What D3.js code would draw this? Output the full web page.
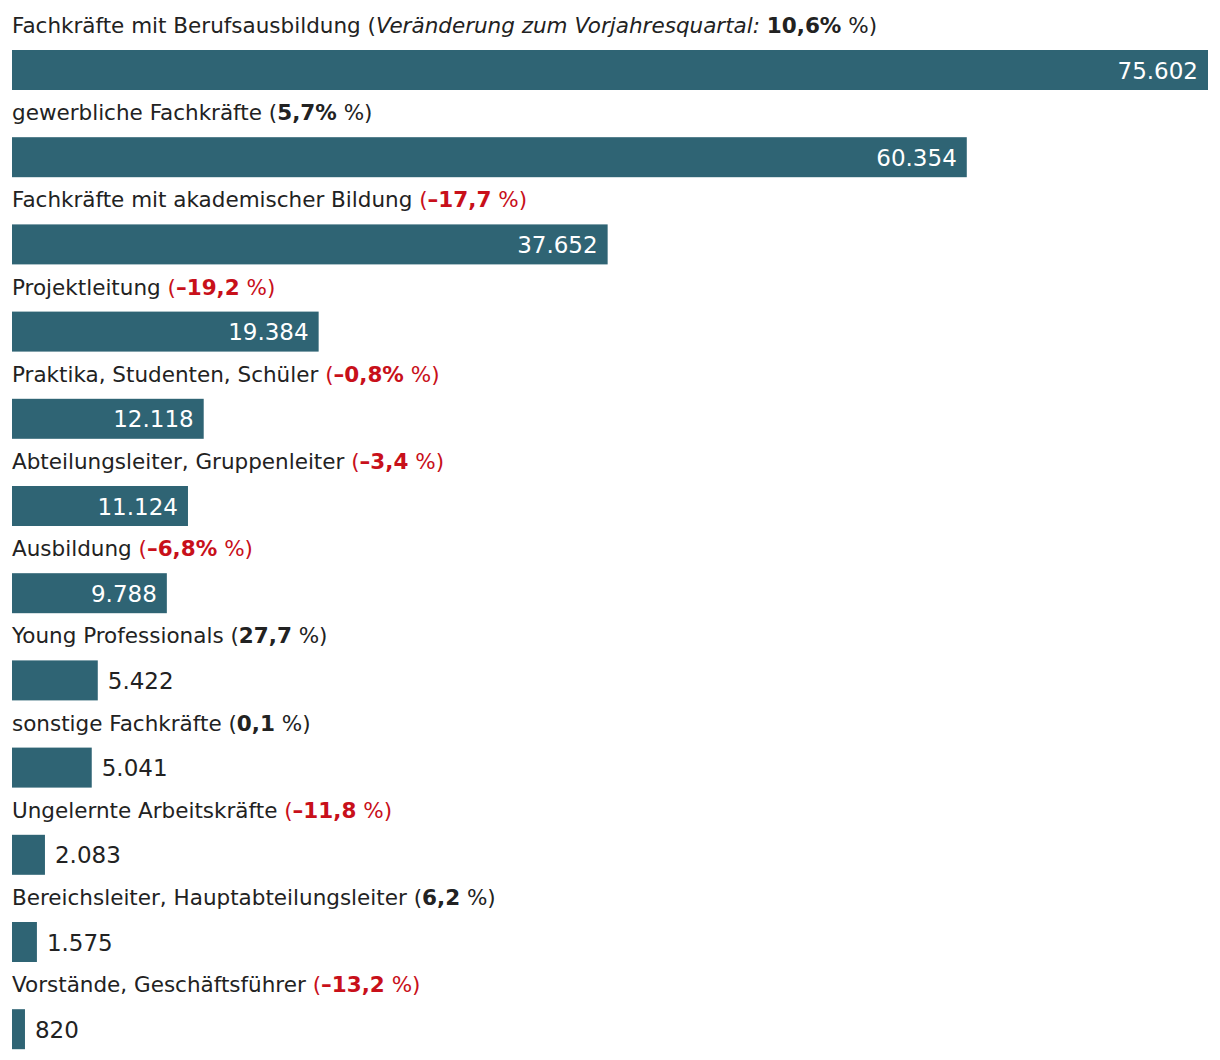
<!DOCTYPE html>
<html><head><meta charset="utf-8">
<script src="https://cdn.jsdelivr.net/npm/d3@7/dist/d3.min.js"></script>
<style>
html,body{margin:0;padding:0;background:#fff;}
svg{display:block;}
text{font-family:"DejaVu Sans", "Liberation Sans", sans-serif;}
</style></head>
<body>
<svg id="chart" width="1220" height="1060"></svg>
<script>
const categories = [
  "Fachkräfte mit Berufsausbildung",
  "gewerbliche Fachkräfte",
  "Fachkräfte mit akademischer Bildung",
  "Projektleitung",
  "Praktika, Studenten, Schüler",
  "Abteilungsleiter, Gruppenleiter",
  "Ausbildung",
  "Young Professionals",
  "sonstige Fachkräfte",
  "Ungelernte Arbeitskräfte",
  "Bereichsleiter, Hauptabteilungsleiter",
  "Vorstände, Geschäftsführer"
];
const values = [75602, 60354, 37652, 19384, 12118, 11124, 9788, 5422, 5041, 2083, 1575, 820];
const changes = [10.6, 5.7, -17.7, -19.2, -0.8, -3.4, -6.8, 27.7, 0.1, -11.8, 6.2, -13.2];
const changeLabels = ["10,6%", "5,7%", "–17,7", "–19,2", "–0,8%", "–3,4", "–6,8%", "27,7", "0,1", "–11,8", "6,2", "–13,2"];
const firstPrefix = "Veränderung zum Vorjahresquartal: ";

const svg = d3.select("#chart");
const left = 12, right = 1208;
const rowTop = 50, rowStep = 87.2, barH = 40;
const x = d3.scaleLinear().domain([0, d3.max(values)]).range([left, right]);
const y = d3.scaleLinear().domain([0, 1]).range([rowTop, rowTop + rowStep]);
const fmt = d3.formatLocale({decimal: ",", thousands: ".", grouping: [3], currency: ["", "€"]}).format(",d");

const barColor = "#2f6474", textColor = "#222222", red = "#c8101a";

const rows = svg.selectAll("g.row").data(categories).join("g").attr("class", "row");

rows.append("rect")
  .attr("x", left)
  .attr("y", (d, i) => y(i))
  .attr("width", (d, i) => x(values[i]) - left)
  .attr("height", barH)
  .attr("fill", barColor);

const lbl = rows.append("text")
  .attr("x", left)
  .attr("y", (d, i) => y(i) - 17)
  .attr("font-size", 21.5)
  .attr("fill", textColor);

lbl.each(function(d, i) {
  const t = d3.select(this);
  const col = changes[i] < 0 ? red : textColor;
  t.append("tspan").text(d + " ");
  t.append("tspan").attr("fill", col).text("(");
  if (i === 0) t.append("tspan").attr("font-style", "italic").text(firstPrefix);
  t.append("tspan").attr("fill", col).attr("font-weight", "bold").text(changeLabels[i]);
  t.append("tspan").attr("fill", col).text(" %)");
});

rows.append("text")
  .attr("y", (d, i) => y(i) + barH / 2)
  .attr("dy", "0.37em")
  .attr("font-size", 23)
  .each(function(d, i) {
    const w = x(values[i]) - left;
    const inside = w > 120;
    d3.select(this)
      .attr("x", inside ? x(values[i]) - 10 : x(values[i]) + 10)
      .attr("text-anchor", inside ? "end" : "start")
      .attr("fill", inside ? "#ffffff" : textColor)
      .text(fmt(values[i]));
  });
</script>
</body></html>
